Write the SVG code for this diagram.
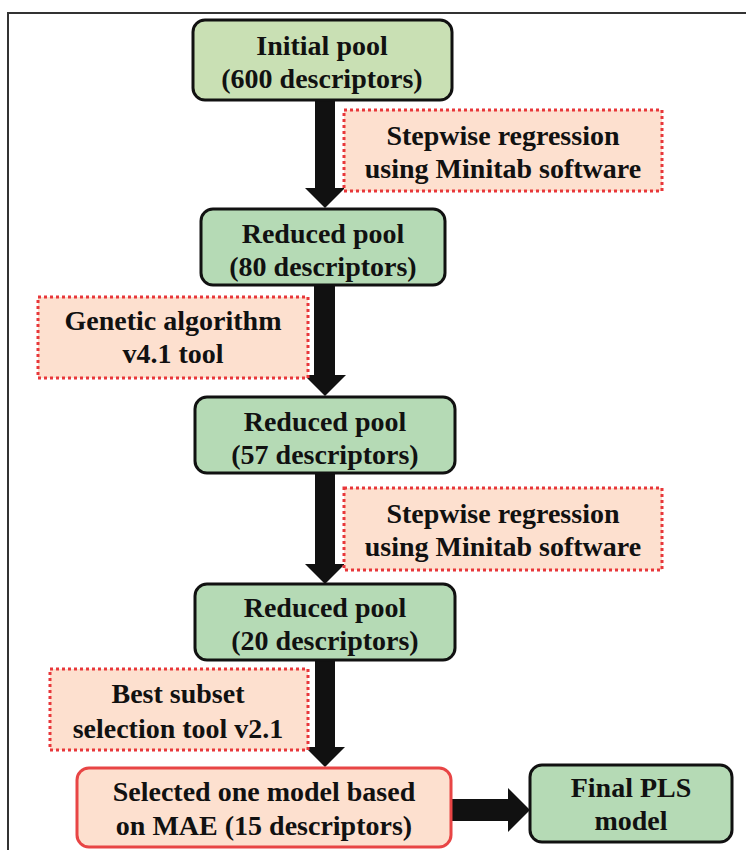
<svg xmlns="http://www.w3.org/2000/svg" width="746" height="850" viewBox="0 0 746 850">
<style>
.t{font-family:"Liberation Serif","Times New Roman",serif;font-weight:bold;font-size:28px;fill:#111;text-anchor:middle}
.n{fill:#b5dab5;stroke:#111;stroke-width:3}
.n1{fill:#c9e0b4;stroke:#111;stroke-width:3}
.lb{fill:#fde0cf;stroke:#e8373a;stroke-width:3;stroke-dasharray:3 3}
.sel{fill:#fde0cf;stroke:#e84545;stroke-width:3}
.a{fill:#111}
</style>
<rect width="746" height="850" fill="#fff"/>
<path d="M8 850 V13 H746" fill="none" stroke="#333" stroke-width="2"/>
<g id="connectors">
<path class="a" d="M315 100 H335 V188 H345 L325 208 L305 188 H315 Z"/>
<path class="a" d="M314 285 H335 V375 H346 L325 396 L304 375 H314 Z"/>
<path class="a" d="M315 473 H335 V564 H345 L325 584 L305 564 H315 Z"/>
<path class="a" d="M315 660 H335 V747 H345 L325 767 L305 747 H315 Z"/>
<path class="a" d="M451 799 H508 V788 L530 810 L508 832 V821 H451 Z"/>
</g>
<g id="node-initial">
<rect class="n1" x="193" y="20" width="259" height="80" rx="12"/>
<text class="t" x="322" y="55">Initial pool</text>
<text class="t" x="322" y="88">(600 descriptors)</text>
</g>
<g id="label-step1">
<rect class="lb" x="344" y="110" width="318" height="81"/>
<text class="t" x="503" y="145">Stepwise regression</text>
<text class="t" x="503" y="178">using Minitab software</text>
</g>
<g id="node-80">
<rect class="n" x="201" y="209" width="244" height="76" rx="12"/>
<text class="t" x="323" y="243">Reduced pool</text>
<text class="t" x="323" y="276">(80 descriptors)</text>
</g>
<g id="label-ga">
<rect class="lb" x="38" y="297" width="270" height="81"/>
<text class="t" x="173" y="330">Genetic algorithm</text>
<text class="t" x="173" y="363">v4.1 tool</text>
</g>
<g id="node-57">
<rect class="n" x="195" y="397" width="260" height="76" rx="12"/>
<text class="t" x="325" y="431">Reduced pool</text>
<text class="t" x="325" y="464">(57 descriptors)</text>
</g>
<g id="label-step2">
<rect class="lb" x="344" y="488" width="318" height="82"/>
<text class="t" x="503" y="523">Stepwise regression</text>
<text class="t" x="503" y="556">using Minitab software</text>
</g>
<g id="node-20">
<rect class="n" x="195" y="584" width="260" height="76" rx="12"/>
<text class="t" x="325" y="617">Reduced pool</text>
<text class="t" x="325" y="650">(20 descriptors)</text>
</g>
<g id="label-bss">
<rect class="lb" x="50" y="669" width="258" height="81"/>
<text class="t" x="178" y="703">Best subset</text>
<text class="t" x="178" y="738">selection tool v2.1</text>
</g>
<g id="node-selected">
<rect class="sel" x="77" y="768" width="374" height="79" rx="12"/>
<text class="t" x="264" y="801">Selected one model based</text>
<text class="t" x="264" y="835">on MAE (15 descriptors)</text>
</g>
<g id="node-final">
<rect class="n" x="530" y="765" width="202" height="77" rx="12"/>
<text class="t" x="631" y="797">Final PLS</text>
<text class="t" x="631" y="830">model</text>
</g>
</svg>
